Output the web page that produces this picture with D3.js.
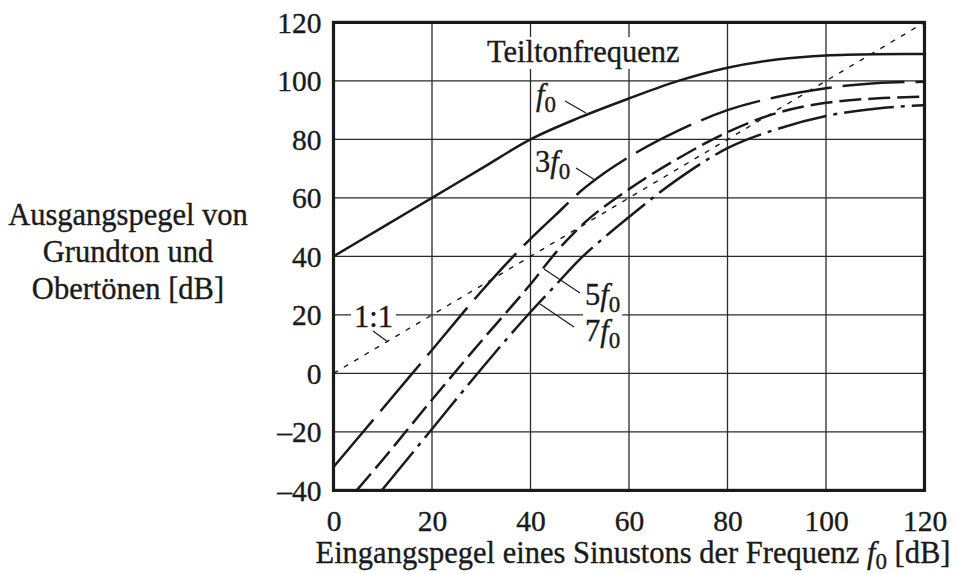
<!DOCTYPE html>
<html>
<head>
<meta charset="utf-8">
<script src="https://cdn.jsdelivr.net/npm/d3@7"></script>
<style>
  html, body { margin: 0; padding: 0; background: #fff; }
  svg { display: block; font-family: "Liberation Serif", "Times New Roman", serif; }
  svg text { stroke: #1a1a1a; stroke-width: 0.35px; }
</style>
</head>
<body>
<svg id="chart" width="955" height="574"></svg>
<script>
// Input level of a pure tone at f0 [dB] versus output level of each partial [dB]
const xTicks = [0, 20, 40, 60, 80, 100, 120];
const yTicks = [-40, -20, 0, 20, 40, 60, 80, 100, 120];

const fundamental = [[0, 40], [10, 50], [20, 60], [30, 70], [40, 80], [50, 87.5], [60, 94],
  [70, 100], [80, 104.5], [90, 107.3], [100, 108.7], [110, 109.1], [120, 109.2]];
const third = [[0, -32], [10, -12], [20, 8], [30, 28], [40, 46], [45, 54], [50, 62], [55, 68.5],
  [60, 74], [70, 83], [80, 90], [90, 94.5], [100, 97.5], [110, 99.2], [120, 99.7]];
const fifth = [[4.7, -40], [10, -29.5], [20, -9], [30, 11], [40, 30.5], [46, 43], [50, 50],
  [60, 63], [70, 73.5], [80, 82.5], [90, 89], [100, 92.5], [110, 94], [120, 94.6]];
const seventh = [[9.8, -40], [20, -19], [30, 1.5], [40, 21], [45, 30], [50, 39], [55, 46.5],
  [60, 53.5], [70, 66.5], [80, 77], [90, 83.5], [100, 88], [110, 90.5], [120, 91.7]];
const identity = [[0, 0], [120, 120]];

const svg = d3.select("#chart");
const x = d3.scaleLinear().domain([0, 120]).range([333.5, 924.5]);
const y = d3.scaleLinear().domain([-40, 120]).range([490.4, 22.4]);

const ink = "#1a1a1a";
const fsTick = 29.5;
const fs = 30.5;

// grid
const grid = svg.append("g");
grid.selectAll("line.vx").data(xTicks).join("line")
  .attr("x1", d => x(d)).attr("x2", d => x(d))
  .attr("y1", y(-40)).attr("y2", y(120))
  .attr("stroke", "#2a2a2a").attr("stroke-width", 1.3);
grid.selectAll("line.hy").data(yTicks).join("line")
  .attr("x1", x(0)).attr("x2", x(120))
  .attr("y1", d => y(d)).attr("y2", d => y(d))
  .attr("stroke", "#2a2a2a").attr("stroke-width", 1.3);

// white boxes under labels that sit on the grid
const bgLayer = svg.append("g");

// curves
const line = d3.line().x(d => x(d[0])).y(d => y(d[1])).curve(d3.curveMonotoneX);
const curves = svg.append("g").attr("fill", "none").attr("stroke", ink)
  .attr("stroke-linecap", "butt");
curves.append("path").datum(identity).attr("d", line)
  .attr("stroke-width", 1.4).attr("stroke-dasharray", "5,7");
curves.append("path").datum(fundamental).attr("d", line).attr("stroke-width", 2.5);
curves.append("path").datum(third).attr("d", line).attr("stroke-width", 2.5)
  .attr("stroke-dasharray", "62,11");
curves.append("path").datum(fifth).attr("d", line).attr("stroke-width", 2.5)
  .attr("stroke-dasharray", "22,7");
curves.append("path").datum(seventh).attr("d", line).attr("stroke-width", 2.5)
  .attr("stroke-dasharray", "50,7,4,7");

// frame
svg.append("rect")
  .attr("x", x(0)).attr("y", y(120))
  .attr("width", x(120) - x(0)).attr("height", y(-40) - y(120))
  .attr("fill", "none").attr("stroke", ink).attr("stroke-width", 3.2);

// axis tick labels
const xAxis = d3.axisBottom(x).tickValues(xTicks).tickSize(0).tickPadding(0);
svg.append("g").attr("transform", `translate(0,${y(-40)})`).call(xAxis)
  .call(g => g.select(".domain").remove())
  .call(g => g.selectAll("text").attr("dy", null).attr("y", 41)
    .attr("font-size", fsTick).attr("font-family", "Liberation Serif").attr("fill", ink));

const yAxis = d3.axisLeft(y).tickValues(yTicks).tickSize(0).tickPadding(0)
  .tickFormat(d => d < 0 ? "\u2013" + Math.abs(d) : d);
svg.append("g").attr("transform", `translate(${x(0) - 12},0)`).call(yAxis)
  .call(g => g.select(".domain").remove())
  .call(g => g.selectAll("text").attr("dy", null).attr("y", 10)
    .attr("font-size", fsTick).attr("font-family", "Liberation Serif").attr("fill", ink));

// axis titles
const yTitle = ["Ausgangspegel von", "Grundton und", "Obertönen [dB]"];
svg.append("text").attr("text-anchor", "middle").attr("font-size", fs).attr("fill", ink)
  .selectAll("tspan").data(yTitle).join("tspan")
  .attr("x", 128).attr("y", (d, i) => 225 + i * 37).text(d => d);

const xt = svg.append("text").attr("text-anchor", "middle").attr("font-size", fs)
  .attr("fill", ink).attr("x", 633).attr("y", 563);
xt.append("tspan").text("Eingangspegel eines Sinustons der Frequenz ");
xt.append("tspan").attr("font-style", "italic").text("f");
xt.append("tspan").attr("font-size", 23).attr("dy", 6).text("0");
xt.append("tspan").attr("dy", -6).text(" [dB]");

// annotations
function partialLabel(px, py, mult, withBg) {
  const t = svg.append("text").attr("x", px).attr("y", py).attr("font-size", fs).attr("fill", ink);
  if (mult) t.append("tspan").text(mult);
  t.append("tspan").attr("font-style", "italic").text("f");
  t.append("tspan").attr("font-size", 23).attr("dy", 7).text("0");
  if (withBg) {
    const b = t.node().getBBox();
    bgLayer.append("rect").attr("x", b.x - 2).attr("y", b.y + 4)
      .attr("width", b.width + 4).attr("height", b.height - 4).attr("fill", "#fff");
  }
}
function leader(x1, y1, x2, y2) {
  svg.append("line").attr("x1", x1).attr("y1", y1).attr("x2", x2).attr("y2", y2)
    .attr("stroke", ink).attr("stroke-width", 1.2);
}

const title = svg.append("text").attr("x", 487).attr("y", 62).attr("font-size", fs)
  .attr("fill", ink).text("Teiltonfrequenz");
{
  const b = title.node().getBBox();
  bgLayer.append("rect").attr("x", b.x - 3).attr("y", b.y + 2)
    .attr("width", b.width + 6).attr("height", b.height - 2).attr("fill", "#fff");
}

partialLabel(536, 105, "", false);
leader(565, 101, 586, 113);
partialLabel(535, 172, "3", false);
leader(576, 168, 595, 180);
partialLabel(585, 305, "5", true);
leader(544, 269, 580, 293);
partialLabel(585, 341, "7", true);
leader(540, 304, 574, 327);

const one = svg.append("text").attr("x", 354).attr("y", 327).attr("font-size", fs)
  .attr("fill", ink).text("1:1");
{
  const b = one.node().getBBox();
  bgLayer.append("rect").attr("x", b.x - 3).attr("y", b.y + 4)
    .attr("width", b.width + 6).attr("height", b.height - 6).attr("fill", "#fff");
}
leader(373, 331, 388, 342);
</script>
</body>
</html>
